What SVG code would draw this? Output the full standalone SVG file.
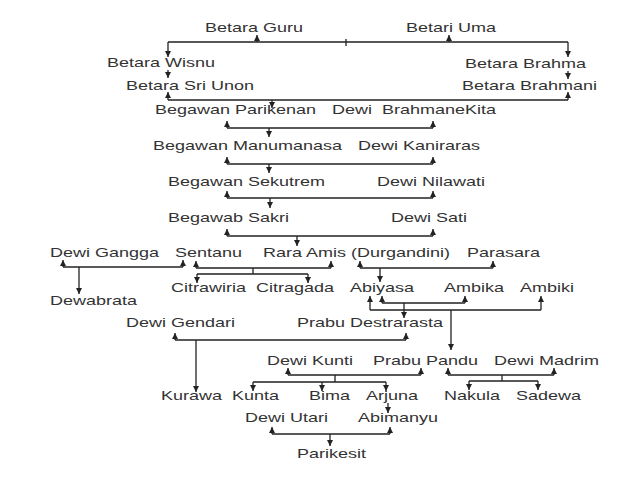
<svg xmlns="http://www.w3.org/2000/svg" width="638" height="479" viewBox="0 0 638 479">
<style>
text{font-family:"Liberation Sans",Arial,sans-serif;font-size:12px;fill:#333;white-space:pre}
.ln{fill:none;stroke:#222;stroke-width:1.3}
.ar{fill:none;stroke:#222;stroke-width:1.3;marker-end:url(#ah)}
</style>
<defs>
<marker id="ah" viewBox="0 0 10 10" refX="10" refY="5" markerWidth="6" markerHeight="6" markerUnits="userSpaceOnUse" orient="auto">
<path d="M0,0 L10,5 L0,10 z" fill="#222"/>
</marker>
</defs>
<rect width="638" height="479" fill="#fff"/>
<g id="connectors">
<path class="ln" d="M168,42 H568 M346,39 V46"/>
<path class="ar" d="M257,42 V35"/><path class="ar" d="M449,42 V35"/>
<path class="ar" d="M168,42 V57"/><path class="ar" d="M568,42 V57"/>
<path class="ar" d="M168,70 V78"/><path class="ar" d="M568,71 V79"/>
<path class="ln" d="M168,100 H568"/>
<path class="ar" d="M168,100 V92"/><path class="ar" d="M568,100 V92"/><path class="ar" d="M272,100 V108"/>
<path class="ln" d="M227,128 H433"/>
<path class="ar" d="M227,128 V121"/><path class="ar" d="M433,128 V121"/><path class="ar" d="M269,128 V137"/>
<path class="ln" d="M227,164 H433"/>
<path class="ar" d="M227,164 V157"/><path class="ar" d="M433,164 V157"/><path class="ar" d="M269,164 V173"/>
<path class="ln" d="M227,198 H433"/>
<path class="ar" d="M227,198 V191"/><path class="ar" d="M433,198 V191"/><path class="ar" d="M270,198 V208"/>
<path class="ln" d="M227,236 H433"/>
<path class="ar" d="M227,236 V229"/><path class="ar" d="M433,236 V229"/><path class="ar" d="M297,236 V246"/>
<path class="ln" d="M63,267 H183"/>
<path class="ar" d="M63,267 V260"/><path class="ar" d="M183,267 V260"/><path class="ar" d="M79,267 V294"/>
<path class="ln" d="M196,268 H331 M253,268 V274 M197,274 H308"/>
<path class="ar" d="M196,268 V261"/><path class="ar" d="M331,268 V261"/>
<path class="ar" d="M197,274 V283"/><path class="ar" d="M308,274 V283"/>
<path class="ln" d="M360,268 H493"/>
<path class="ar" d="M360,268 V261"/><path class="ar" d="M493,268 V261"/><path class="ar" d="M380,268 V282"/>
<path class="ln" d="M382,303 H465 M370,310 H541"/>
<path class="ar" d="M382,303 V296"/><path class="ar" d="M370,310 V296"/>
<path class="ar" d="M465,303 V296"/><path class="ar" d="M541,310 V296"/>
<path class="ar" d="M404,303 V318"/><path class="ar" d="M451,310 V350"/>
<path class="ln" d="M175,340 H406"/>
<path class="ar" d="M175,340 V333"/><path class="ar" d="M406,340 V333"/><path class="ar" d="M196,340 V392"/>
<path class="ln" d="M288,375 H421 M335,375 V382 M253,382 H386"/>
<path class="ar" d="M288,375 V368"/><path class="ar" d="M421,375 V368"/>
<path class="ar" d="M253,382 V391"/><path class="ar" d="M322,382 V391"/><path class="ar" d="M386,382 V391"/>
<path class="ln" d="M448,375 H554 M502,375 V381 M469,381 H538"/>
<path class="ar" d="M448,375 V368"/><path class="ar" d="M554,375 V368"/>
<path class="ar" d="M469,381 V390"/><path class="ar" d="M538,381 V390"/>
<path class="ar" d="M388,403 V413"/>
<path class="ln" d="M272,434 H390"/>
<path class="ar" d="M272,434 V427"/><path class="ar" d="M390,434 V427"/><path class="ar" d="M330,434 V446"/>
</g>
<g id="n-betara-guru" transform="translate(205,32)"><text transform="scale(1.5,1)">Betara Guru</text></g>
<g id="n-betari-uma" transform="translate(406,32)"><text transform="scale(1.5,1)">Betari Uma</text></g>
<g id="n-betara-wisnu" transform="translate(107,67)"><text transform="scale(1.5,1)">Betara Wisnu</text></g>
<g id="n-betara-brahma" transform="translate(465,68)"><text transform="scale(1.5,1)">Betara Brahma</text></g>
<g id="n-betara-sri-unon" transform="translate(126,90)"><text transform="scale(1.5,1)">Betara Sri Unon</text></g>
<g id="n-betara-brahmani" transform="translate(462,90)"><text transform="scale(1.5,1)">Betara Brahmani</text></g>
<g id="n-begawan-parikenan" transform="translate(155,114)"><text transform="scale(1.5,1)">Begawan Parikenan</text></g>
<g id="n-dewi-brahmanekita" transform="translate(332,114)"><text transform="scale(1.5,1)" xml:space="preserve">Dewi  BrahmaneKita</text></g>
<g id="n-begawan-manumanasa" transform="translate(153,150)"><text transform="scale(1.5,1)">Begawan Manumanasa</text></g>
<g id="n-dewi-kaniraras" transform="translate(358,150)"><text transform="scale(1.5,1)">Dewi Kaniraras</text></g>
<g id="n-begawan-sekutrem" transform="translate(168,186)"><text transform="scale(1.5,1)">Begawan Sekutrem</text></g>
<g id="n-dewi-nilawati" transform="translate(377,186)"><text transform="scale(1.5,1)">Dewi Nilawati</text></g>
<g id="n-begawab-sakri" transform="translate(168,222)"><text transform="scale(1.5,1)">Begawab Sakri</text></g>
<g id="n-dewi-sati" transform="translate(391,222)"><text transform="scale(1.5,1)">Dewi Sati</text></g>
<g id="n-dewi-gangga" transform="translate(50,257)"><text transform="scale(1.5,1)">Dewi Gangga</text></g>
<g id="n-sentanu" transform="translate(175,257)"><text transform="scale(1.5,1)">Sentanu</text></g>
<g id="n-rara-amis" transform="translate(263,257)"><text transform="scale(1.5,1)">Rara Amis (Durgandini)</text></g>
<g id="n-parasara" transform="translate(467,257)"><text transform="scale(1.5,1)">Parasara</text></g>
<g id="n-dewabrata" transform="translate(50,305)"><text transform="scale(1.5,1)">Dewabrata</text></g>
<g id="n-citrawiria" transform="translate(171,292)"><text transform="scale(1.5,1)">Citrawiria</text></g>
<g id="n-citragada" transform="translate(256,292)"><text transform="scale(1.5,1)">Citragada</text></g>
<g id="n-abiyasa" transform="translate(350,292)"><text transform="scale(1.5,1)">Abiyasa</text></g>
<g id="n-ambika" transform="translate(444,292)"><text transform="scale(1.5,1)">Ambika</text></g>
<g id="n-ambiki" transform="translate(520,292)"><text transform="scale(1.5,1)">Ambiki</text></g>
<g id="n-dewi-gendari" transform="translate(126,327)"><text transform="scale(1.5,1)">Dewi Gendari</text></g>
<g id="n-prabu-destrarasta" transform="translate(297,327)"><text transform="scale(1.5,1)">Prabu Destrarasta</text></g>
<g id="n-dewi-kunti" transform="translate(267,365)"><text transform="scale(1.5,1)">Dewi Kunti</text></g>
<g id="n-prabu-pandu" transform="translate(373,365)"><text transform="scale(1.5,1)">Prabu Pandu</text></g>
<g id="n-dewi-madrim" transform="translate(494,365)"><text transform="scale(1.5,1)">Dewi Madrim</text></g>
<g id="n-kurawa" transform="translate(161,400)"><text transform="scale(1.5,1)">Kurawa</text></g>
<g id="n-kunta" transform="translate(232,400)"><text transform="scale(1.5,1)">Kunta</text></g>
<g id="n-bima" transform="translate(309,400)"><text transform="scale(1.5,1)">Bima</text></g>
<g id="n-arjuna" transform="translate(366,400)"><text transform="scale(1.5,1)">Arjuna</text></g>
<g id="n-nakula" transform="translate(444,400)"><text transform="scale(1.5,1)">Nakula</text></g>
<g id="n-sadewa" transform="translate(516,400)"><text transform="scale(1.5,1)">Sadewa</text></g>
<g id="n-dewi-utari" transform="translate(245,422)"><text transform="scale(1.5,1)">Dewi Utari</text></g>
<g id="n-abimanyu" transform="translate(358,422)"><text transform="scale(1.5,1)">Abimanyu</text></g>
<g id="n-parikesit" transform="translate(297,458)"><text transform="scale(1.5,1)">Parikesit</text></g>
</svg>
